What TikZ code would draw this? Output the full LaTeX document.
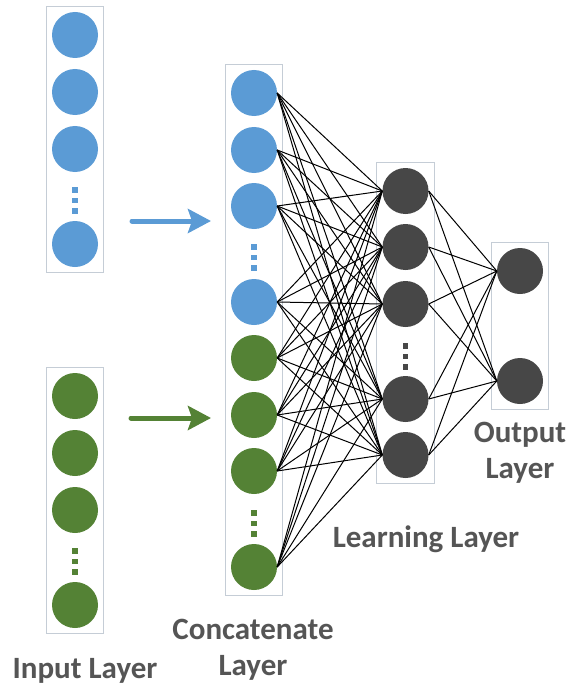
\documentclass[tikz,border=0pt]{standalone}
\usepackage{fontspec}
\setmainfont{Carlito}
\usetikzlibrary{arrows.meta,fit,positioning}

\definecolor{neuronblue}{HTML}{5B9BD5}
\definecolor{neurongreen}{HTML}{548235}
\definecolor{neurongray}{HTML}{474747}
\definecolor{labelgray}{HTML}{555555}
\definecolor{boxgray}{HTML}{C5CDD6}

\begin{document}
\begin{tikzpicture}[x=1bp,y=-1bp,
                    neuron/.style={circle,minimum size=46bp,inner sep=0pt},
                    layer/.style={draw=boxgray,line width=0.8bp,inner sep=5.5bp},
                    link/.style={black,line width=1bp},
                    feed/.style={line width=5bp,line cap=round,
                                 -{Stealth[length=23bp,width=24bp,inset=4bp]}},
                    caption/.style={font=\fontsize{31bp}{36bp}\selectfont\bfseries,
                                    text=labelgray,align=center}]
    \useasboundingbox (0,0) rectangle (580,692);

    % input layer, two branches
    \foreach \y [count=\i] in {35,92,149,244}
        \node[neuron,fill=neuronblue]  (ib\i) at (75,\y) {};
    \foreach \y [count=\i] in {396,453,510,605}
        \node[neuron,fill=neurongreen] (ig\i) at (75,\y) {};
    \node[layer,fit=(ib1)(ib4)] (inblue)  {};
    \node[layer,fit=(ig1)(ig4)] (ingreen) {};

    % concatenate layer
    \foreach \y/\col [count=\i] in {93/neuronblue,150/neuronblue,206/neuronblue,302/neuronblue,
                                    358/neurongreen,415/neurongreen,471/neurongreen,567/neurongreen}
        \node[neuron,fill=\col] (c\i) at (254,\y) {};
    \node[layer,fit=(c1)(c8)] (concat) {};

    % learning layer
    \foreach \y [count=\i] in {191,247,304,399,455}
        \node[neuron,fill=neurongray] (h\i) at (405.5,\y) {};
    \node[layer,fit=(h1)(h5)] (learn) {};

    % output layer
    \node[neuron,fill=neurongray] (o1) at (520,271) {};
    \node[neuron,fill=neurongray] (o2) at (520,381) {};
    \node[layer,fit=(o1)(o2)] (out) {};

    % vertical dots
    \foreach \x/\y/\col in {75/190/neuronblue,75/551/neurongreen,254/247/neuronblue,
                            254/513/neurongreen,405.5/346/neurongray}
        \foreach \k in {0,1,2}
            \fill[\col] (\x-2.6,\y-2.6+10.5*\k) rectangle +(5.2,5.2);

    % connections
    \foreach \i in {1,...,8}
        \foreach \j in {1,...,5}
            \draw[link] (c\i.east) -- (h\j.west);
    \foreach \j in {1,...,5}
        \foreach \k in {1,2}
            \draw[link] (h\j.east) -- (o\k.west);

    % feed arrows
    \coordinate (bstart) at (132,221);
    \coordinate (bend)   at (211,221);
    \coordinate (gstart) at (131,418);
    \coordinate (gend)   at (211,418);
    \draw[feed,neuronblue]  (bstart) -- (bend);
    \draw[feed,neurongreen] (gstart) -- (gend);

    % labels
    \node[caption,anchor=base] (outlabel)    at (520,478) {Output\\Layer};
    \node[caption,anchor=base] (learnlabel)  at (426,547) {Learning Layer};
    \node[caption,anchor=base] (concatlabel) at (253,675) {Concatenate\\Layer};
    \node[caption,anchor=base] (inlabel)     at (85,678)  {Input Layer};
\end{tikzpicture}
\end{document}
